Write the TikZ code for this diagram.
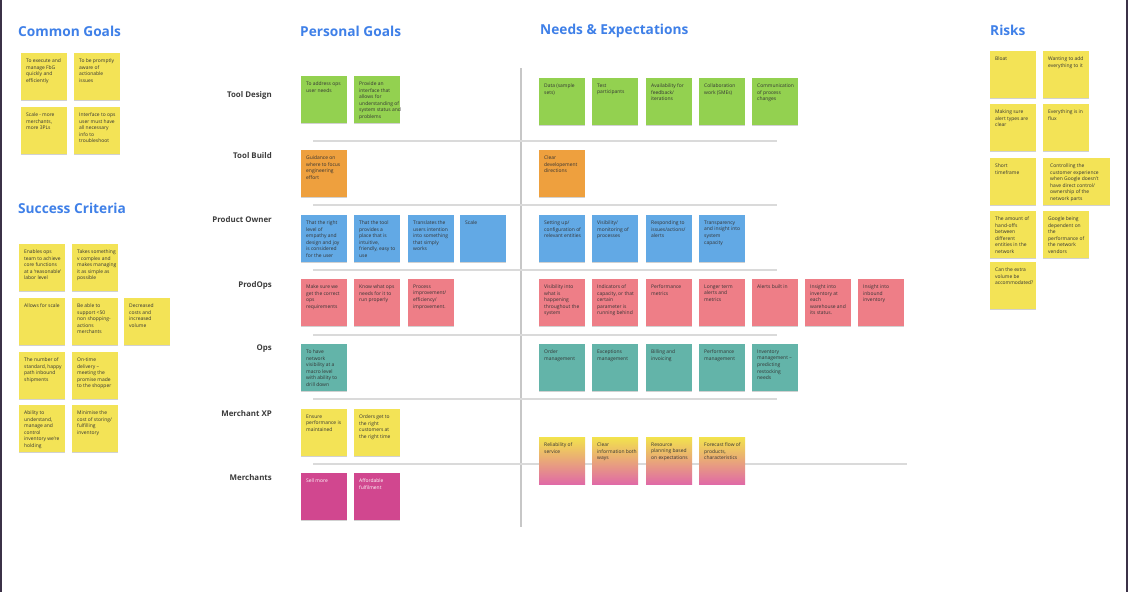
\documentclass[tikz,border=0pt]{standalone}
\usepackage{fontspec}
\setmainfont{Open Sans}
\usetikzlibrary{shadows}
\definecolor{stY}{HTML}{F3E356}
\definecolor{stG}{HTML}{93D150}
\definecolor{stO}{HTML}{EEA03E}
\definecolor{stB}{HTML}{62A9E5}
\definecolor{stP}{HTML}{EE7E87}
\definecolor{stT}{HTML}{63B4A9}
\definecolor{stM}{HTML}{D1478F}
\definecolor{gradTop}{HTML}{F2E34C}
\definecolor{gradBot}{HTML}{E06AA6}
\definecolor{ttlBlue}{HTML}{3F80E8}
\definecolor{lblGray}{HTML}{3C3C3C}
\definecolor{sepGray}{HTML}{DADADA}
\definecolor{frameDark}{HTML}{3B3147}
\tikzset{
  stickybox/.style={anchor=north west, minimum width=46pt, minimum height=47pt, inner sep=0pt, outer sep=0pt,
    drop shadow={shadow xshift=0.3pt, shadow yshift=-0.8pt, opacity=0.18, fill=black}},
  stxt/.style={anchor=north west, align=left, inner sep=0pt, xshift=5pt, yshift=-5.6pt,
    text=black!80, font=\fontsize{4.95}{6.6}\selectfont},
  ttl/.style={anchor=west, text=ttlBlue, font=\fontsize{13.7}{16}\selectfont\bfseries, inner sep=0pt},
  rowlbl/.style={anchor=east, text=lblGray, font=\fontsize{7.9}{9}\selectfont\bfseries, inner sep=0pt},
  sepline/.style={draw=sepGray, line width=1.4pt},
}
\newcommand\stk[5]{\node[stickybox, fill=#4, label={[stxt]north west:{#5}}] (#1) at (#2,#3) {};}
\newcommand\stkw[5]{\node[stickybox, fill=#4, minimum width=67pt, label={[stxt, xshift=2pt]north west:{#5}}] (#1) at (#2,#3) {};}
\newcommand\stkg[4]{\node[stickybox, top color=gradTop, bottom color=gradBot, label={[stxt]north west:{#4}}] (#1) at (#2,#3) {};}
\newcommand\stkm[4]{\node[stickybox, fill=stM, label={[stxt, text=white]north west:{#4}}] (#1) at (#2,#3) {};}
\begin{document}
\begin{tikzpicture}[x=1pt,y=-1pt]
\useasboundingbox (0,0) rectangle (1128,592);
\fill[white] (0,0) rectangle (1128,592);
\fill[frameDark] (0,0) rectangle (2,592);
\fill[frameDark] (1126,0) rectangle (1128,592);

% separators
\draw[draw=black!22, line width=1.1pt] (521,68) -- (521,527);
\foreach \yy in {141,205,270,335,399} { \draw[sepline] (313,\yy) -- (777,\yy); }
\draw[sepline] (313,464) -- (907,464);

% titles
\node[ttl] (tCommon) at (18,31) {Common Goals};
\node[ttl] (tSuccess) at (18,208) {Success Criteria};
\node[ttl] (tPersonal) at (300,31) {Personal Goals};
\node[ttl] (tNeeds) at (540,31) {Needs \& Expectations};
\node[ttl] (tRisks) at (990,30) {Risks};

% row labels
\node[rowlbl] (lTD) at (272,95) {Tool Design};
\node[rowlbl] (lTB) at (272,156) {Tool Build};
\node[rowlbl] (lPO) at (272,220) {Product Owner};
\node[rowlbl] (lPR) at (272,285) {ProdOps};
\node[rowlbl] (lOP) at (272,349) {Ops};
\node[rowlbl] (lMX) at (272,414) {Merchant XP};
\node[rowlbl] (lME) at (272,478) {Merchants};

% common goals
\stk{cg1}{21}{53}{stY}{To execute and\\manage FbG\\quickly and\\efficiently}
\stk{cg2}{74}{53}{stY}{To be promptly\\aware of\\actionable\\issues}
\stk{cg3}{21}{107}{stY}{Scale - more\\merchants,\\more 3PLs}
\stk{cg4}{74}{107}{stY}{Interface to ops\\user must have\\all necessary\\info to\\troubleshoot}

% success criteria
\stk{sc1}{19}{244}{stY}{Enables ops\\team to achieve\\core functions\\at a ‘reasonable’\\labor level}
\stk{sc2}{72}{244}{stY}{Takes something\\v complex and\\makes managing\\it as simple as\\possible}
\stk{sc3}{19}{298}{stY}{Allows for scale}
\stk{sc4}{72}{298}{stY}{Be able to\\support <50\\non shopping-\\actions\\merchants}
\stk{sc5}{124}{298}{stY}{Decreased\\costs and\\increased\\volume}
\stk{sc6}{19}{352}{stY}{The number of\\standard, happy\\path inbound\\shipments}
\stk{sc7}{72}{352}{stY}{On-time\\delivery –\\meeting the\\promise made\\to the shopper}
\stk{sc8}{19}{405}{stY}{Ability to\\understand,\\manage and\\control\\inventory we’re\\holding}
\stk{sc9}{72}{405}{stY}{Minimise the\\cost of storing/\\fulfilling\\inventory}

% personal goals
\stk{pTD1}{301}{76}{stG}{To address ops\\user needs}
\stk{pTD2}{354}{76}{stG}{Provide an\\interface that\\allows for\\understanding of\\system status and\\problems}
\stk{pTB1}{301}{150}{stO}{Guidance on\\where to focus\\engineering\\effort}
\stk{pPO1}{301}{215}{stB}{That the right\\level of\\empathy and\\design and joy\\is considered\\for the user}
\stk{pPO2}{354}{215}{stB}{That the tool\\provides a\\place that is\\intuitive,\\friendly, easy to\\use}
\stk{pPO3}{408}{215}{stB}{Translates the\\users intention\\into something\\that simply\\works}
\stk{pPO4}{460}{215}{stB}{Scale}
\stk{pPR1}{301}{279}{stP}{Make sure we\\get the correct\\ops\\requirements}
\stk{pPR2}{354}{279}{stP}{Know what ops\\needs for it to\\run properly}
\stk{pPR3}{408}{279}{stP}{Process\\improvement/\\efficiency/\\improvement.}
\stk{pOP1}{301}{344}{stT}{To have\\network\\visibility at a\\macro level\\with ability to\\drill down}
\stk{pMX1}{301}{409}{stY}{Ensure\\performance is\\maintained}
\stk{pMX2}{354}{409}{stY}{Orders get to\\the right\\customers at\\the right time}
\stkm{pME1}{301}{473}{Sell more}
\stkm{pME2}{354}{473}{Affordable\\fulfilment}

% needs & expectations
\stk{nTD1}{539}{78}{stG}{Data (sample\\sets)}
\stk{nTD2}{592}{78}{stG}{Test\\participants}
\stk{nTD3}{646}{78}{stG}{Availability for\\feedback/\\iterations}
\stk{nTD4}{699}{78}{stG}{Collaboration\\work (SMEs)}
\stk{nTD5}{752}{78}{stG}{Communication\\of process\\changes}
\stk{nTB1}{539}{150}{stO}{Clear\\developement\\directions}
\stk{nPO1}{539}{215}{stB}{Setting up/\\configuration of\\relevant entities}
\stk{nPO2}{592}{215}{stB}{Visibility/\\monitoring of\\processes}
\stk{nPO3}{646}{215}{stB}{Responding to\\issues/actions/\\alerts}
\stk{nPO4}{699}{215}{stB}{Transparency\\and insight into\\system\\capacity}
\stk{nPR1}{539}{279}{stP}{Visibility into\\what is\\happening\\throughout the\\system}
\stk{nPR2}{592}{279}{stP}{Indicators of\\capacity, or that\\certain\\parameter is\\running behind}
\stk{nPR3}{646}{279}{stP}{Performance\\metrics}
\stk{nPR4}{699}{279}{stP}{Longer term\\alerts and\\metrics}
\stk{nPR5}{752}{279}{stP}{Alerts built in}
\stk{nPR6}{805}{279}{stP}{Insight into\\inventory at\\each\\warehouse and\\its status.}
\stk{nPR7}{858}{279}{stP}{Insight into\\inbound\\inventory}
\stk{nOP1}{539}{344}{stT}{Order\\management}
\stk{nOP2}{592}{344}{stT}{Exceptions\\management}
\stk{nOP3}{646}{344}{stT}{Billing and\\invoicing}
\stk{nOP4}{699}{344}{stT}{Performance\\management}
\stk{nOP5}{752}{344}{stT}{Inventory\\management –\\predicting\\restocking\\needs}
\stkg{nMX1}{539}{437}{Reliability of\\service}
\stkg{nMX2}{592}{437}{Clear\\information both\\ways}
\stkg{nMX3}{646}{437}{Resource\\planning based\\on expectations}
\stkg{nMX4}{699}{437}{Forecast flow of\\products,\\characteristics}

% risks
\stk{r1}{990}{51}{stY}{Bloat}
\stk{r2}{1043}{51}{stY}{Wanting to add\\everything to it}
\stk{r3}{990}{104}{stY}{Making sure\\alert types are\\clear}
\stk{r4}{1043}{104}{stY}{Everything is in\\flux}
\stk{r5}{990}{158}{stY}{Short\\timeframe}
\stkw{r6}{1043}{158}{stY}{Controlling the\\customer experience\\when Google doesn't\\have direct control/\\ownership of the\\network parts}
\stk{r7}{990}{211}{stY}{The amount of\\hand-offs\\between\\different\\entities in the\\network}
\stk{r8}{1043}{211}{stY}{Google being\\dependent on\\the\\performance of\\the network\\vendors}
\stk{r9}{990}{262}{stY}{Can the extra\\volume be\\accommodated?}
\end{tikzpicture}
\end{document}
